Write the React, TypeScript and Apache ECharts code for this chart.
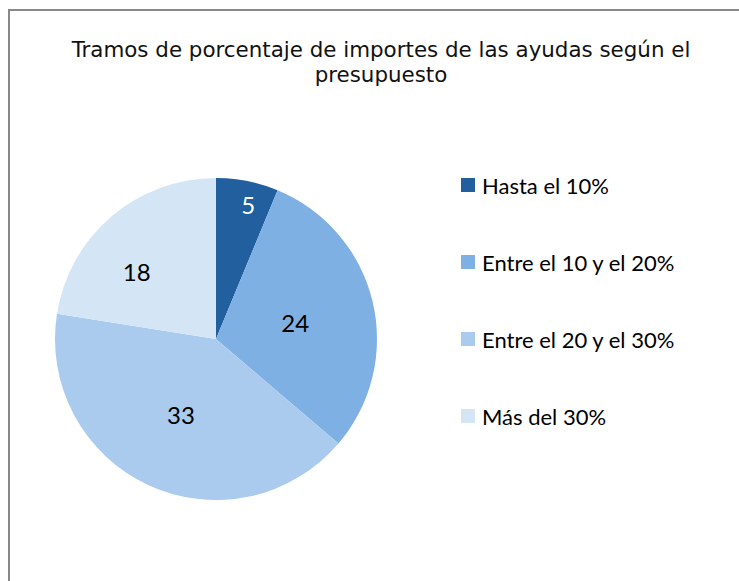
import React, { useEffect, useRef } from "react";
import * as echarts from "echarts";

const titleText = "Tramos de porcentaje de importes de las ayudas según el\npresupuesto";
const categories = ["Hasta el 10%", "Entre el 10 y el 20%", "Entre el 20 y el 30%", "Más del 30%"];
const values = [5, 24, 33, 18];
const colors = ["#215F9F", "#7EB0E4", "#AACBEE", "#D4E5F6"];
const labelColors = ["#ffffff", "#000000", "#000000", "#000000"];
const labelOffsets: [number, number][] = [[16, -53], [-2, 3], [0, 0], [-25, -4]];

export default function App() {
  const ref = useRef<HTMLDivElement>(null);
  useEffect(() => {
    const chart = echarts.init(ref.current!, undefined, { renderer: "svg" });
    chart.setOption({
      animation: false,
      backgroundColor: "#ffffff",
      title: {
        text: titleText,
        left: 381,
        top: 37,
        textAlign: "center",
        padding: 0,
        textStyle: {
          fontFamily: "DejaVu Sans",
          fontSize: 21.4,
          fontWeight: "normal",
          color: "#111111",
          lineHeight: 25,
        },
      },
      legend: {
        orient: "vertical",
        left: 461,
        top: 173,
        itemWidth: 14,
        itemHeight: 14,
        itemGap: 53,
        icon: "rect",
        padding: 0,
        textStyle: {
          fontFamily: "Lato",
          fontSize: 22,
          color: "#000000",
          lineHeight: 24,
          padding: [0, 0, 0, 2],
        },
        data: categories,
      },
      graphic: [
        {
          type: "rect",
          shape: { x: 9, y: 10, width: 800, height: 700 },
          style: { fill: "none", stroke: "#898989", lineWidth: 2 },
          silent: true,
        },
      ],
      series: [
        {
          type: "pie",
          center: [216, 339],
          radius: 161,
          startAngle: 90,
          clockwise: true,
          label: {
            show: true,
            position: "inside",
            formatter: "{c}",
            fontFamily: "Lato",
            fontSize: 24,
          },
          labelLine: { show: false },
          itemStyle: { borderWidth: 0 },
          emphasis: { disabled: true },
          data: categories.map((name, i) => ({
            name,
            value: values[i],
            itemStyle: { color: colors[i] },
            label: { color: labelColors[i], offset: labelOffsets[i] },
          })),
        },
      ],
    });
    return () => chart.dispose();
  }, []);
  return (
    <div
      ref={ref}
      style={{ position: "absolute", left: 0, top: 0, width: 739, height: 581 }}
    />
  );
}
